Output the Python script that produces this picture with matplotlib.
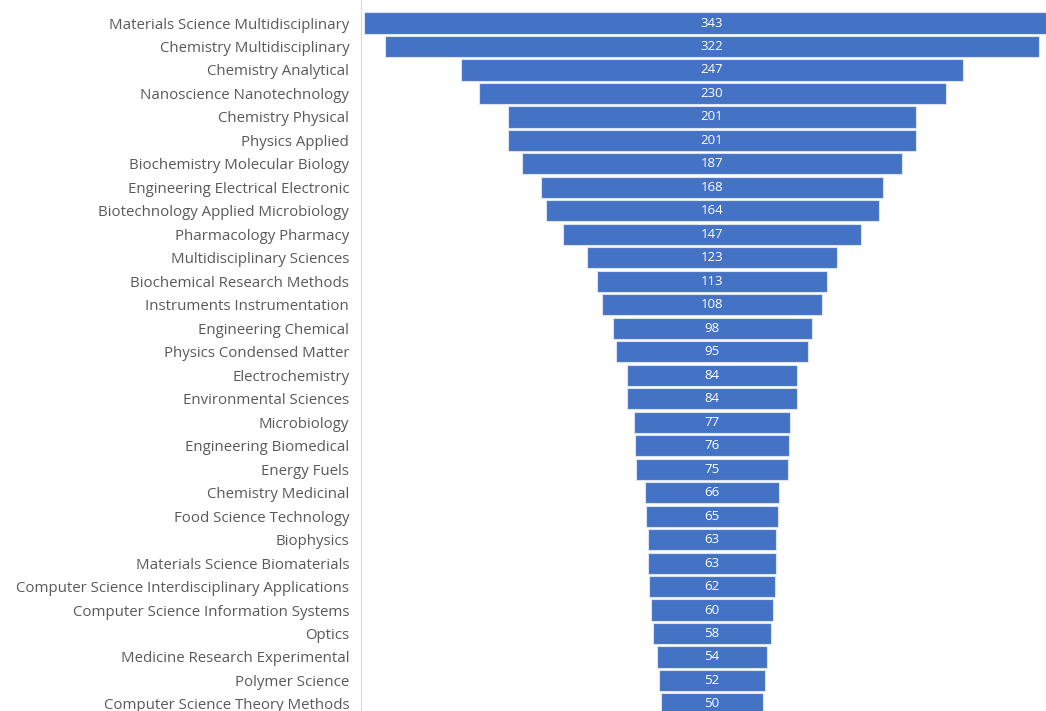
import matplotlib
matplotlib.use('Agg')
import matplotlib.pyplot as plt

categories = [
    'Materials Science Multidisciplinary', 'Chemistry Multidisciplinary', 'Chemistry Analytical',
    'Nanoscience Nanotechnology', 'Chemistry Physical', 'Physics Applied',
    'Biochemistry Molecular Biology', 'Engineering Electrical Electronic',
    'Biotechnology Applied Microbiology', 'Pharmacology Pharmacy', 'Multidisciplinary Sciences',
    'Biochemical Research Methods', 'Instruments Instrumentation', 'Engineering Chemical',
    'Physics Condensed Matter', 'Electrochemistry', 'Environmental Sciences', 'Microbiology',
    'Engineering Biomedical', 'Energy Fuels', 'Chemistry Medicinal', 'Food Science Technology',
    'Biophysics', 'Materials Science Biomaterials',
    'Computer Science Interdisciplinary Applications', 'Computer Science Information Systems',
    'Optics', 'Medicine Research Experimental', 'Polymer Science', 'Computer Science Theory Methods',
]
counts = [343, 322, 247, 230, 201, 201, 187, 168, 164, 147, 123, 113, 108, 98, 95,
          84, 84, 77, 76, 75, 66, 65, 63, 63, 62, 60, 58, 54, 52, 50]

plt.rcParams['font.family'] = ['Open Sans', 'DejaVu Sans']

fig = plt.figure(figsize=(10.46, 7.11), dpi=100)
ax = fig.add_axes([361 / 1046, 0, 685 / 1046, 1])

pos = list(range(len(counts)))
lefts = [-c / 2 for c in counts]
ax.barh(pos, counts, left=lefts, height=0.9, color='#4472C4', edgecolor='#dbe3f3', linewidth=0.8)

# value labels in the middle of each bar
for i, c in enumerate(counts):
    ax.text(0, i, str(c), ha='center', va='center', color='white', fontsize=9.5)

ax.set_xlim(-172.9, 164.5)
ax.set_ylim(29.30, -0.98)
ax.set_yticks(pos)
ax.set_yticklabels(categories, fontsize=10.8, color='#595959')
ax.tick_params(axis='y', length=0, pad=8.5)
ax.set_xticks([])
for s in ['top', 'right', 'bottom']:
    ax.spines[s].set_visible(False)
ax.spines['left'].set_color('#d9d9d9')

fig.savefig('out.png', dpi=100)
